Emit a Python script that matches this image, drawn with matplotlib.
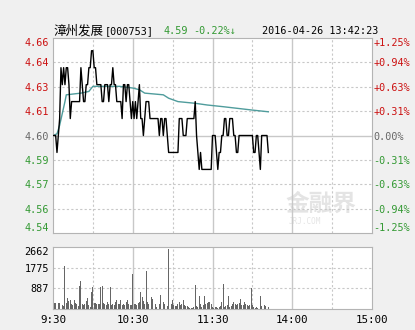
import matplotlib
matplotlib.use("Agg")
import matplotlib.pyplot as plt

plt.rcParams['font.family'] = ['DejaVu Sans Mono', 'Noto Sans CJK SC', 'DejaVu Sans']

# 分时数据 (minutes since 9:30, afternoon continues after 120)
prev_close = 4.60
price = [4.60, 4.60, 4.60, 4.59, 4.60, 4.61, 4.64, 4.63, 4.64, 4.63,
         4.64, 4.64, 4.63, 4.61, 4.62, 4.62, 4.62, 4.62, 4.62, 4.62,
         4.62, 4.64, 4.63, 4.62, 4.62, 4.63, 4.63, 4.64, 4.64, 4.65,
         4.65, 4.64, 4.64, 4.63, 4.63, 4.63, 4.63, 4.62, 4.62, 4.63,
         4.63, 4.63, 4.62, 4.63, 4.63, 4.64, 4.63, 4.63, 4.62, 4.62,
         4.62, 4.62, 4.61, 4.63, 4.63, 4.62, 4.63, 4.63, 4.62, 4.61,
         4.62, 4.61, 4.62, 4.61, 4.62, 4.63, 4.61, 4.61, 4.60, 4.61,
         4.62, 4.62, 4.62, 4.61, 4.61, 4.61, 4.61, 4.61, 4.61, 4.61,
         4.60, 4.61, 4.61, 4.60, 4.61, 4.61, 4.60, 4.59, 4.59, 4.59,
         4.59, 4.59, 4.59, 4.59, 4.59, 4.61, 4.61, 4.61, 4.60, 4.60,
         4.60, 4.61, 4.61, 4.61, 4.61, 4.61, 4.61, 4.62, 4.60, 4.59,
         4.58, 4.59, 4.58, 4.58, 4.58, 4.58, 4.58, 4.58, 4.58, 4.58,
         4.60, 4.60, 4.60, 4.59, 4.58, 4.59, 4.59, 4.60, 4.60, 4.61,
         4.61, 4.60, 4.60, 4.61, 4.61, 4.61, 4.60, 4.60, 4.59, 4.59,
         4.60, 4.60, 4.60, 4.60, 4.60, 4.60, 4.60, 4.60, 4.60, 4.60,
         4.60, 4.59, 4.59, 4.60, 4.60, 4.59, 4.58, 4.60, 4.60, 4.60,
         4.60, 4.60, 4.59]

volume = [300, 258, 258, 186, 272, 258, 1374, 186, 150, 1860,
          258, 487, 329, 372, 200, 186, 372, 258, 229, 150,
          988, 1188, 229, 157, 200, 329, 487, 186, 86, 730,
          940, 258, 258, 229, 229, 200, 945, 973, 272, 229,
          157, 300, 200, 945, 186, 229, 157, 300, 372, 200,
          229, 372, 157, 229, 186, 300, 372, 200, 186, 157,
          1490, 229, 200, 186, 272, 300, 730, 515, 329, 200,
          1617, 300, 229, 157, 515, 444, 200, 229, 86, 372,
          229, 587, 157, 300, 200, 186, 114, 2590, 114, 200,
          372, 157, 114, 114, 229, 300, 157, 200, 372, 157,
          114, 114, 86, 57, 43, 57, 86, 1045, 114, 86,
          560, 229, 86, 157, 560, 229, 272, 300, 300, 229,
          86, 57, 86, 86, 43, 86, 114, 300, 1088, 86,
          114, 157, 545, 86, 114, 200, 300, 229, 186, 229,
          258, 444, 157, 157, 300, 200, 157, 114, 186, 900,
          157, 86, 57, 86, 43, 615, 545, 114, 86, 157,
          114, 86, 86]

# 均价线
avg_min = [0, 3, 5, 7, 9, 10, 21, 27, 30, 50, 60, 65, 69, 83, 87, 94, 107, 116, 128, 139, 150, 162]
avg_price = [4.600, 4.601, 4.606, 4.613, 4.620, 4.624, 4.625, 4.626, 4.629, 4.629, 4.628,
             4.627, 4.625, 4.624, 4.622, 4.620, 4.619, 4.618, 4.617, 4.616, 4.615, 4.614]

price_labels = ['4.54', '4.56', '4.57', '4.59', '4.60', '4.61', '4.63', '4.64', '4.66']
pct_labels = ['-1.25%', '-0.94%', '-0.63%', '-0.31%', '0.00%', '+0.31%', '+0.63%', '+0.94%', '+1.25%']
time_labels = ['9:30', '10:30', '11:30', '14:00', '15:00']
vol_labels = ['887', '1775', '2662']

red = '#cc1111'
green = '#339933'
mid = '#666666'
grid_c = '#c8c8c8'
fs = 7.3

fig = plt.figure(figsize=(4.15, 3.30), dpi=100, facecolor='#f0f0f0')
ax = fig.add_axes([0.1277, 0.2939, 0.7687, 0.5909])
axv = fig.add_axes([0.1277, 0.0636, 0.7687, 0.1879])

mins = list(range(len(price)))
lim = 0.0125 * prev_close
yt = [prev_close - lim + i * lim / 4 for i in range(9)]

ax.plot(mins, price, color='black', lw=1.0, zorder=3)
ax.plot(avg_min, avg_price, color='#4f9c9c', lw=1.0, zorder=2)
ax.set_xlim(0, 240)
ax.set_ylim(yt[0], yt[-1])
ax.set_facecolor('white')

for i, y in enumerate(yt):
    if i == 4:
        ax.axhline(y, color=grid_c, lw=1.0, zorder=1)
    elif 0 < i < 8:
        ax.axhline(y, color=grid_c, lw=0.8, ls=(0, (2, 2)), zorder=1)
for a in (ax, axv):
    for x in range(30, 240, 30):
        if x % 60 == 0:
            a.axvline(x, color=grid_c, lw=1.0, zorder=1)
        else:
            a.axvline(x, color=grid_c, lw=0.8, ls=(0, (2, 2)), zorder=1)
    for s in a.spines.values():
        s.set_color('#b4b4b4')
        s.set_linewidth(0.8)

ax.set_yticks(yt)
ax.set_yticklabels(price_labels, fontsize=fs)
ax.set_xticks([])
ax.tick_params(axis='y', length=0, pad=3)
ax2 = ax.twinx()
ax2.set_ylim(yt[0], yt[-1])
ax2.set_yticks(yt)
ax2.set_yticklabels(pct_labels, fontsize=fs)
ax2.tick_params(axis='y', length=0, pad=1)
for s in ax2.spines.values():
    s.set_visible(False)

for labs in (ax.get_yticklabels(), ax2.get_yticklabels()):
    for i, t in enumerate(labs):
        t.set_color(green if i < 4 else (mid if i == 4 else red))
        if i == 0:
            t.set_va('bottom')
        elif i == 8:
            t.set_va('top')

# 水印
ax.text(0.84, 0.15, '金融界', transform=ax.transAxes, fontsize=17, color='#e4e4e4',
        ha='center', va='center', fontweight='bold', zorder=0)
ax.text(0.79, 0.06, 'JRJ.COM', transform=ax.transAxes, fontsize=5.5, color='#e4e4e4',
        ha='center', va='center', zorder=0)

# 成交量
axv.bar(mins, volume, width=0.7, color='#666666', zorder=3)
axv.set_xlim(0, 240)
axv.set_ylim(0, 2662)
axv.set_facecolor('white')
for v in (887, 1775):
    axv.axhline(v, color=grid_c, lw=0.8, ls=(0, (2, 2)), zorder=1)
axv.set_yticks([887, 1775, 2662])
axv.set_yticklabels(vol_labels, fontsize=fs)
axv.get_yticklabels()[2].set_va('top')
axv.set_xticks([0, 60, 120, 180, 240])
axv.set_xticklabels(time_labels, fontsize=fs + 0.5)
axv.tick_params(length=0, pad=4)
axv.tick_params(axis='y', pad=3)

fig.text(0.1277, 0.905, '漳州发展', fontsize=9, va='center', family='Noto Sans CJK SC')
fig.text(0.253, 0.905, '[000753]', fontsize=fs, va='center')
fig.text(0.393, 0.905, '4.59', fontsize=fs, va='center', color=green)
fig.text(0.465, 0.905, '-0.22%↓', fontsize=fs, va='center', color=green)
fig.text(0.632, 0.905, '2016-04-26 13:42:23', fontsize=fs, va='center')

fig.savefig('out.png', dpi=100, facecolor=fig.get_facecolor())
